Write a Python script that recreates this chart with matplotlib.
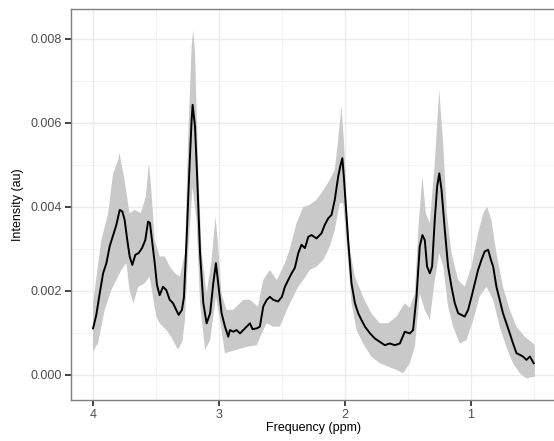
import numpy as np
import matplotlib
matplotlib.use("Agg")
import matplotlib.pyplot as plt
from matplotlib.ticker import FixedLocator, FormatStrFormatter

plt.rcParams['font.family'] = ['Liberation Sans', 'DejaVu Sans']

# ---- data ----
mean_ppm = [4.0, 3.974, 3.947, 3.92, 3.894, 3.868, 3.84, 3.815, 3.788, 3.767, 3.749, 3.728, 3.709,
            3.688, 3.664, 3.638, 3.611, 3.585, 3.563, 3.548, 3.529, 3.51, 3.492, 3.471, 3.444, 3.418,
            3.391, 3.365, 3.339, 3.32, 3.294, 3.278, 3.256, 3.235, 3.217, 3.209, 3.19, 3.172, 3.15,
            3.124, 3.098, 3.07, 3.045, 3.024, 3.006, 2.979, 2.952, 2.926, 2.913, 2.886, 2.86, 2.833,
            2.807, 2.78, 2.754, 2.733, 2.70, 2.675, 2.648, 2.62, 2.595, 2.569, 2.53, 2.50, 2.476, 2.45,
            2.423, 2.397, 2.37, 2.344, 2.317, 2.29, 2.264, 2.225, 2.186, 2.16, 2.132, 2.106, 2.08,
            2.053, 2.034, 2.02, 2.008, 1.992, 1.974, 1.947, 1.92, 1.894, 1.868, 1.84, 1.80, 1.762,
            1.722, 1.683, 1.643, 1.603, 1.563, 1.524, 1.484, 1.458, 1.431, 1.405, 1.384, 1.365, 1.347,
            1.325, 1.307, 1.286, 1.267, 1.25, 1.232, 1.206, 1.18, 1.153, 1.127, 1.10, 1.074, 1.048,
            1.021, 0.994, 0.968, 0.942, 0.915, 0.889, 0.862, 0.84, 0.822, 0.796, 0.77, 0.744, 0.717,
            0.69, 0.664, 0.637, 0.61, 0.585, 0.558, 0.53, 0.50]
mean_int = [0.00111, 0.00143, 0.00194, 0.00242, 0.00266, 0.00306, 0.00333, 0.00357, 0.00393, 0.00389,
            0.00369, 0.00321, 0.00282, 0.00262, 0.00286, 0.0029, 0.00302, 0.00321, 0.00365, 0.00362,
            0.00313, 0.00266, 0.00214, 0.0019, 0.0021, 0.00202, 0.00179, 0.00171, 0.00155, 0.00143,
            0.00155, 0.00185, 0.00329, 0.00488, 0.00607, 0.00643, 0.00591, 0.00464, 0.0029, 0.00171,
            0.00123, 0.00147, 0.00218, 0.00266, 0.00218, 0.00147, 0.00115, 0.00091, 0.00107, 0.00103,
            0.00107, 0.00099, 0.00107, 0.00115, 0.00123, 0.00109, 0.00111, 0.00115, 0.00163, 0.00179,
            0.00186, 0.00179, 0.00175, 0.00186, 0.0021, 0.00226, 0.00242, 0.00255, 0.0029, 0.0031,
            0.00302, 0.00329, 0.00333, 0.00325, 0.00337, 0.00357, 0.00373, 0.00381, 0.00417, 0.00472,
            0.005, 0.00516, 0.00472, 0.004, 0.00321, 0.00218, 0.00171, 0.00147, 0.00131, 0.00115,
            0.00099, 0.00087, 0.00079, 0.00071, 0.00075, 0.00071, 0.00075, 0.00103, 0.00099, 0.00107,
            0.00186, 0.00306, 0.00333, 0.00321, 0.00258, 0.00242, 0.00258, 0.00369, 0.00448, 0.0048,
            0.0044, 0.00345, 0.00258, 0.0021, 0.00171, 0.00147, 0.00143, 0.00139, 0.00155, 0.00186,
            0.00218, 0.0025, 0.00274, 0.00294, 0.00298, 0.00274, 0.00258, 0.0021, 0.00179, 0.00147,
            0.00123, 0.00099, 0.00075, 0.00052, 0.00048, 0.00044, 0.00036, 0.00044, 0.00028]

upper_ppm = [4.0, 3.934, 3.88, 3.84, 3.80, 3.79, 3.75, 3.71, 3.67, 3.62, 3.58, 3.556, 3.537, 3.51,
             3.47, 3.43, 3.39, 3.35, 3.31, 3.27, 3.244, 3.217, 3.204, 3.19, 3.164, 3.137, 3.098,
             3.058, 3.027, 3.006, 2.98, 2.94, 2.886, 2.807, 2.754, 2.69, 2.648, 2.595, 2.54, 2.476,
             2.437, 2.384, 2.33, 2.278, 2.225, 2.17, 2.12, 2.08, 2.053, 2.027, 2.008, 1.987, 1.96,
             1.92, 1.855, 1.79, 1.722, 1.656, 1.59, 1.524, 1.484, 1.444, 1.417, 1.384, 1.357, 1.325,
             1.286, 1.25, 1.218, 1.19, 1.153, 1.10, 1.048, 0.994, 0.942, 0.90, 0.87, 0.836, 0.796,
             0.744, 0.69, 0.637, 0.571, 0.505, 0.49]
upper_int = [0.0017, 0.00321, 0.00385, 0.0048, 0.00512, 0.00528, 0.00464, 0.00385, 0.00393, 0.00385,
             0.00425, 0.00504, 0.0044, 0.00321, 0.00282, 0.00282, 0.00258, 0.00242, 0.00234, 0.0029,
             0.00567, 0.00782, 0.00821, 0.00766, 0.00488, 0.0029, 0.00194, 0.00274, 0.00377, 0.00306,
             0.00194, 0.00155, 0.00155, 0.00179, 0.00179, 0.00163, 0.00226, 0.0025, 0.00226, 0.00266,
             0.0030, 0.00361, 0.0040, 0.00405, 0.00417, 0.0044, 0.00464, 0.00488, 0.0056, 0.00639,
             0.0056, 0.00417, 0.00298, 0.00234, 0.00186, 0.00147, 0.00123, 0.00123, 0.00139, 0.00171,
             0.0016, 0.00194, 0.00345, 0.00472, 0.00385, 0.00361, 0.00504, 0.00679, 0.00544, 0.00385,
             0.0029, 0.00226, 0.0021, 0.00258, 0.00337, 0.00385, 0.00401, 0.00369, 0.0029, 0.0021,
             0.00155, 0.00115, 0.00091, 0.00075, 0.0007]

lower_ppm = [4.0, 3.96, 3.907, 3.855, 3.775, 3.735, 3.71, 3.68, 3.64, 3.59, 3.55, 3.524, 3.497, 3.47,
             3.418, 3.38, 3.325, 3.29, 3.27, 3.244, 3.21, 3.178, 3.15, 3.11, 3.07, 3.024, 2.992,
             2.952, 2.86, 2.78, 2.70, 2.66, 2.62, 2.569, 2.516, 2.46, 2.41, 2.37, 2.33, 2.278, 2.225,
             2.17, 2.12, 2.08, 2.04, 2.013, 1.987, 1.947, 1.907, 1.855, 1.79, 1.722, 1.656, 1.59,
             1.537, 1.484, 1.444, 1.405, 1.365, 1.325, 1.286, 1.25, 1.218, 1.18, 1.14, 1.087, 1.034,
             0.98, 0.93, 0.875, 0.822, 0.77, 0.717, 0.664, 0.61, 0.558, 0.49]
lower_int = [0.00056, 0.00076, 0.00155, 0.00202, 0.0025, 0.00266, 0.00202, 0.00171, 0.0021, 0.00218,
             0.00234, 0.00186, 0.00139, 0.00123, 0.00107, 0.00091, 0.0006, 0.0008, 0.00131, 0.0029,
             0.00448, 0.00369, 0.00171, 0.0006, 0.00083, 0.00186, 0.00131, 0.00052, 0.0006, 0.00067,
             0.00071, 0.00099, 0.00123, 0.00115, 0.00115, 0.00155, 0.00186, 0.0021, 0.00226, 0.0025,
             0.00258, 0.00274, 0.00306, 0.00345, 0.00409, 0.00409, 0.00321, 0.00171, 0.00107, 0.00075,
             0.00044, 0.00028, 0.0002, 0.00012, 0.00004, 0.00028, 0.00067, 0.00194, 0.00155, 0.00131,
             0.00226, 0.0029, 0.00258, 0.00163, 0.00115, 0.00075, 0.00083, 0.00131, 0.00186, 0.0021,
             0.00179, 0.00115, 0.00067, 0.00028, 0.00004, -0.00008, -0.00004]

x_ticks = [4, 3, 2, 1]
x_tick_labels = ["4", "3", "2", "1"]
y_ticks = [0.000, 0.002, 0.004, 0.006, 0.008]
x_label = "Frequency (ppm)"
y_label = "Intensity (au)"

# ---- figure ----
W, H = 554, 441
fig = plt.figure(figsize=(W / 100, H / 100), dpi=100)
ax = fig.add_axes([71 / W, 1 - 400 / H, (557 - 71) / W, (400 - 9) / H])

band_x = np.concatenate([upper_ppm, lower_ppm[::-1]])
band_y = np.concatenate([upper_int, lower_int[::-1]])
ax.fill(band_x, band_y, color="#c9c9c9", lw=0, zorder=2)
ax.plot(mean_ppm, mean_int, color="black", lw=1.4, zorder=3, solid_joinstyle="round")

ax.set_xlim(4.175, 0.315)
ax.set_ylim(-0.000595, 0.00871)

ax.xaxis.set_major_locator(FixedLocator(x_ticks))
ax.set_xticklabels(x_tick_labels)
ax.xaxis.set_minor_locator(FixedLocator([3.5, 2.5, 1.5, 0.5]))
ax.yaxis.set_major_locator(FixedLocator(y_ticks))
ax.yaxis.set_major_formatter(FormatStrFormatter("%.3f"))
ax.yaxis.set_minor_locator(FixedLocator([0.001, 0.003, 0.005, 0.007]))

ax.grid(which="major", color="#ebebeb", lw=1.0, zorder=0)
ax.grid(which="minor", color="#f3f3f3", lw=0.7, zorder=0)
ax.set_axisbelow(True)

for s in ax.spines.values():
    s.set_color("#7f7f7f")
    s.set_linewidth(1.0)

ax.tick_params(which="major", direction="out", length=4.5, width=1.3, color="#333333",
               labelcolor="#4d4d4d", labelsize=9, pad=2)
ax.tick_params(which="minor", length=0)

ax.set_xlabel(x_label, fontsize=9, color="black", labelpad=1)
ax.set_ylabel(y_label, fontsize=9, color="black", labelpad=5)

fig.savefig("out.png", dpi=100)
